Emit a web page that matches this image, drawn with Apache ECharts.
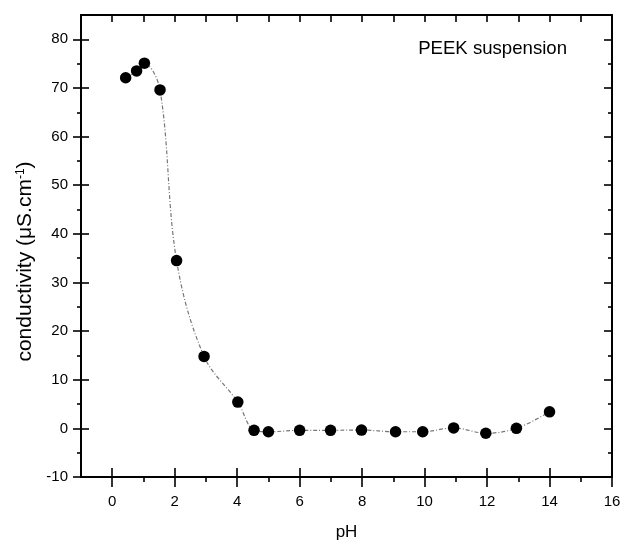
<!DOCTYPE html>
<html>
<head>
<meta charset="utf-8">
<script src="https://cdn.jsdelivr.net/npm/echarts@6/dist/echarts.min.js"></script>
<style>
html,body{margin:0;padding:0;background:#fff;}
#chart{width:622px;height:541px;}
</style>
</head>
<body>
<div id="chart"></div>
<script>
// ---- data ----
var pH = [0.43, 0.78, 1.03, 1.53, 2.06, 2.94, 4.02, 4.54, 5.0, 6.0, 6.99, 7.98, 9.07, 9.94, 10.93, 11.96, 12.94, 14.0];
var conductivity = [72.1, 73.5, 75.1, 69.6, 34.5, 14.8, 5.4, -0.4, -0.7, -0.4, -0.4, -0.35, -0.7, -0.7, 0.1, -1.0, 0.0, 3.4];
var xMajorTicks = [0, 2, 4, 6, 8, 10, 12, 14, 16];
var xMinorTicks = [1, 3, 5, 7, 9, 11, 13, 15];
var xTopTicks = [0, 1, 2, 3, 4, 5, 6, 7, 8, 9, 10, 11, 12, 13, 14, 15];
var yMajorTicks = [-10, 0, 10, 20, 30, 40, 50, 60, 70, 80];
var yMinorTicks = [-5, 5, 15, 25, 35, 45, 55, 65, 75];
var xName = 'pH';
var yNameMain = 'conductivity (\u03bcS.cm';
var ySup = '-1';
var annotation = 'PEEK suspension';

var FONT = '"Liberation Sans", Arial, Helvetica, sans-serif';
var INK = '#000';
var X_MIN = -1, X_MAX = 16, Y_MIN = -10, Y_MAX = 85;

function xAx(opt) {
  return Object.assign({
    type: 'value', min: X_MIN, max: X_MAX, position: 'bottom',
    splitLine: {show: false},
    axisLine: {show: false, onZero: false},
    axisLabel: {show: false},
    axisTick: {show: false}
  }, opt);
}
function yAx(opt) {
  return Object.assign({
    type: 'value', min: Y_MIN, max: Y_MAX, position: 'left',
    splitLine: {show: false},
    axisLine: {show: false, onZero: false},
    axisLabel: {show: false},
    axisTick: {show: false}
  }, opt);
}
var tickStyle = {color: INK, width: 1.6};

var chart = echarts.init(document.getElementById('chart'), null, {renderer: 'canvas'});
chart.setOption({
  animation: false,
  backgroundColor: '#fff',
  title: {
    text: annotation, right: 55, top: 39, padding: 0,
    textStyle: {fontFamily: FONT, fontSize: 18.6, fontWeight: 'normal', color: INK}
  },
  grid: {left: 81, right: 10, top: 15, bottom: 64, containLabel: false, outerBoundsMode: 'none'},
  xAxis: [
    xAx({
      name: xName, nameLocation: 'middle', nameGap: 47,
      nameTextStyle: {fontFamily: FONT, fontSize: 17, color: INK},
      axisLine: {show: true, onZero: false, lineStyle: {color: INK, width: 2}},
      axisLabel: {show: true, customValues: xMajorTicks, margin: 17, fontFamily: FONT, fontSize: 15, color: INK},
      axisTick: {show: true, customValues: xMajorTicks, inside: false, length: 10, lineStyle: tickStyle}
    }),
    xAx({axisTick: {show: true, customValues: xMajorTicks, inside: true, length: 9, lineStyle: tickStyle}}),
    xAx({axisTick: {show: true, customValues: xMinorTicks, inside: false, length: 5, lineStyle: tickStyle}}),
    xAx({position: 'top',
      axisLine: {show: true, onZero: false, lineStyle: {color: INK, width: 2}},
      axisTick: {show: true, customValues: xTopTicks, inside: true, length: 7, lineStyle: tickStyle}})
  ],
  yAxis: [
    yAx({
      name: '{m|' + yNameMain + '}{s|' + ySup + '}{m|)}',
      nameLocation: 'middle', nameGap: 44,
      nameTextStyle: {
        fontFamily: FONT, fontSize: 21, color: INK, padding: [0, 31, 0, 0],
        rich: {
          m: {fontFamily: FONT, fontSize: 21, color: INK},
          s: {fontFamily: FONT, fontSize: 12, color: INK, verticalAlign: 'top', padding: [0, 0, 9, 0]}
        }
      },
      axisLine: {show: true, onZero: false, lineStyle: {color: INK, width: 2}},
      axisLabel: {show: true, customValues: yMajorTicks, margin: 13, fontFamily: FONT, fontSize: 15, color: INK},
      axisTick: {show: true, customValues: yMajorTicks, inside: false, length: 8, lineStyle: tickStyle}
    }),
    yAx({axisTick: {show: true, customValues: yMajorTicks.slice(1), inside: true, length: 8, lineStyle: tickStyle}}),
    yAx({axisTick: {show: true, customValues: yMinorTicks, inside: false, length: 4, lineStyle: tickStyle}}),
    yAx({position: 'right',
      axisLine: {show: true, onZero: false, lineStyle: {color: INK, width: 2}},
      axisTick: {show: true, customValues: yMajorTicks.slice(1), inside: true, length: 8, lineStyle: tickStyle}}),
    yAx({position: 'right',
      axisTick: {show: true, customValues: yMinorTicks, inside: true, length: 4, lineStyle: tickStyle}})
  ],
  series: [
    {
      type: 'line', xAxisIndex: 0, yAxisIndex: 0,
      data: pH.map(function (x, i) { return [x, conductivity[i]]; }),
      smooth: 0.35, showSymbol: false, symbol: 'none',
      lineStyle: {color: '#777', width: 1.2, type: [4, 2, 1, 2]},
      z: 2
    },
    {
      type: 'scatter', xAxisIndex: 0, yAxisIndex: 0,
      data: pH.map(function (x, i) { return [x, conductivity[i]]; }),
      symbol: 'circle', symbolSize: 11.5,
      itemStyle: {color: '#000', opacity: 1},
      z: 3
    }
  ]
});
</script>
</body>
</html>
